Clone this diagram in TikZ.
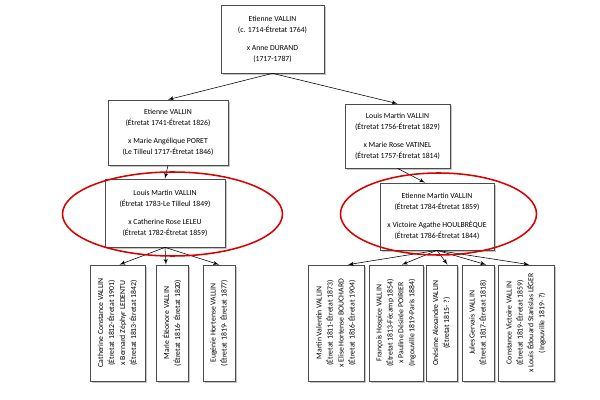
\documentclass[tikz,border=0pt]{standalone}
\usepackage{fontspec}
\setmainfont{Carlito}
\usetikzlibrary{shapes,arrows,shadows}
\tikzset{person/.style={draw=black!70,
                        fill=white,
                        line width=0.5pt,
                        align=center,
                        inner sep=0pt,
                        font=\fontsize{5.5}{7.8}\selectfont,
                        drop shadow={shadow xshift=0.5mm, shadow yshift=-0.5mm, fill=black!45}},
         child/.style={person,
                       rotate=90,
                       minimum width=29mm},
         ring/.style={draw=red!85!black, line width=1.1pt}}

\begin{document}
\begin{tikzpicture}[x=0.025cm, y=-0.025cm, >=latex']
    \useasboundingbox (0,0) rectangle (600,400);
    % ancestors
    \node [person, minimum width=25.75mm, minimum height=17mm] (etienneA) at (272.5,39)
        {Etienne VALLIN\\(c. 1714-Étretat 1764)\\[5pt]x Anne DURAND\\(1717-1787)};
    \node [person, minimum width=30mm, minimum height=16.25mm] (etienneB) at (168,132.5)
        {Etienne VALLIN\\(Étretat 1741-Étretat 1826)\\[5pt]x Marie Angélique PORET\\(Le Tilleul 1717-Étretat 1846)};
    \node [person, minimum width=26.25mm, minimum height=16mm] (louisA) at (397.5,136)
        {Louis Martin VALLIN\\(Étretat 1756-Étretat 1829)\\[5pt]x Marie Rose VATINEL\\(Étretat 1757-Étretat 1814)};
    \node [person, minimum width=30mm, minimum height=17mm] (louisB) at (165,213)
        {Louis Martin VALLIN\\(Étretat 1783-Le Tilleul 1849)\\[5pt]x Catherine Rose LELEU\\(Étretat 1782-Étretat 1859)};
    \node [person, minimum width=28.5mm, minimum height=16.75mm] (etienneC) at (437,216.5)
        {Etienne Martin VALLIN\\(Étretat 1784-Étretat 1859)\\[5pt]x Victoire Agathe HOULBRÈQUE\\(Étretat 1786-Étretat 1844)};
    % children of Louis Martin
    \node [child, minimum height=13.75mm] (catherine) at (117.5,323)
        {Catherine Constance VALLIN\\(Étretat 1812-Étretat 1901)\\x Bernard Zéphyr LEDENTU\\(Étretat 1813-Étretat 1842)};
    \node [child, minimum height=8mm] (marie) at (172,323)
        {Marie Éléonore VALLIN\\(Étretat 1816- Étretat 1820)};
    \node [child, minimum height=8mm] (eugenie) at (219,323)
        {Eugénie Hortense VALLIN\\(Étretat 1819- Étretat 1877)};
    % children of Etienne Martin
    \node [child, minimum height=14mm] (martin) at (336,323)
        {Martin Valentin VALLIN\\(Étretat 1811-Étretat 1873)\\x Elise Hortense BOUCHARD\\(Étretat 1816-Étretat 1904)};
    \node [child, minimum height=13.5mm] (francois) at (396,323)
        {François Hospice VALLIN\\(Étretat 1813-Fécamp 1854)\\x Pauline Désirée POIRIER\\(Ingouville 1819-Paris 1884)};
    \node [child, minimum height=7.75mm] (onesime) at (441.5,323)
        {Onésime Alexandre VALLIN\\(Étretat 1815- ?)};
    \node [child, minimum height=8mm] (jules) at (478,323)
        {Jules Gervais VALLIN\\(Étretat 1817-Étretat 1818)};
    \node [child, minimum height=14mm] (constance) at (526,323)
        {Constance Victoire VALLIN\\(Étretat 1819-Étretat 1859)\\x Louis Édouard Stanislas LÉGER\\(Ingouville 1819- ?)};
    % descent lines
    \draw [->] (etienneA.south) -- (etienneB.north);
    \draw [->] (etienneA.south) -- (louisA.north);
    \draw [->] (etienneB.south) -- (louisB.north);
    \draw [->] (louisA.south) -- ([xshift=-3mm]etienneC.north);
    \foreach \kid/\dx in {catherine/0.5mm,marie/-1.5mm,eugenie/0mm}
        \draw [->] (louisB.south) -- ([xshift=\dx]\kid.east);
    \foreach \kid/\dx in {martin/3mm,francois/1.5mm,onesime/1.5mm,jules/2mm,constance/0.8mm}
        \draw [->] (etienneC.south) -- ([xshift=\dx]\kid.east);
    % highlighted couples
    \draw [ring] (172.5,214) ellipse [x radius=110, y radius=42];
    \draw [ring] (438.5,214) ellipse [x radius=98, y radius=41];
\end{tikzpicture}
\end{document}
